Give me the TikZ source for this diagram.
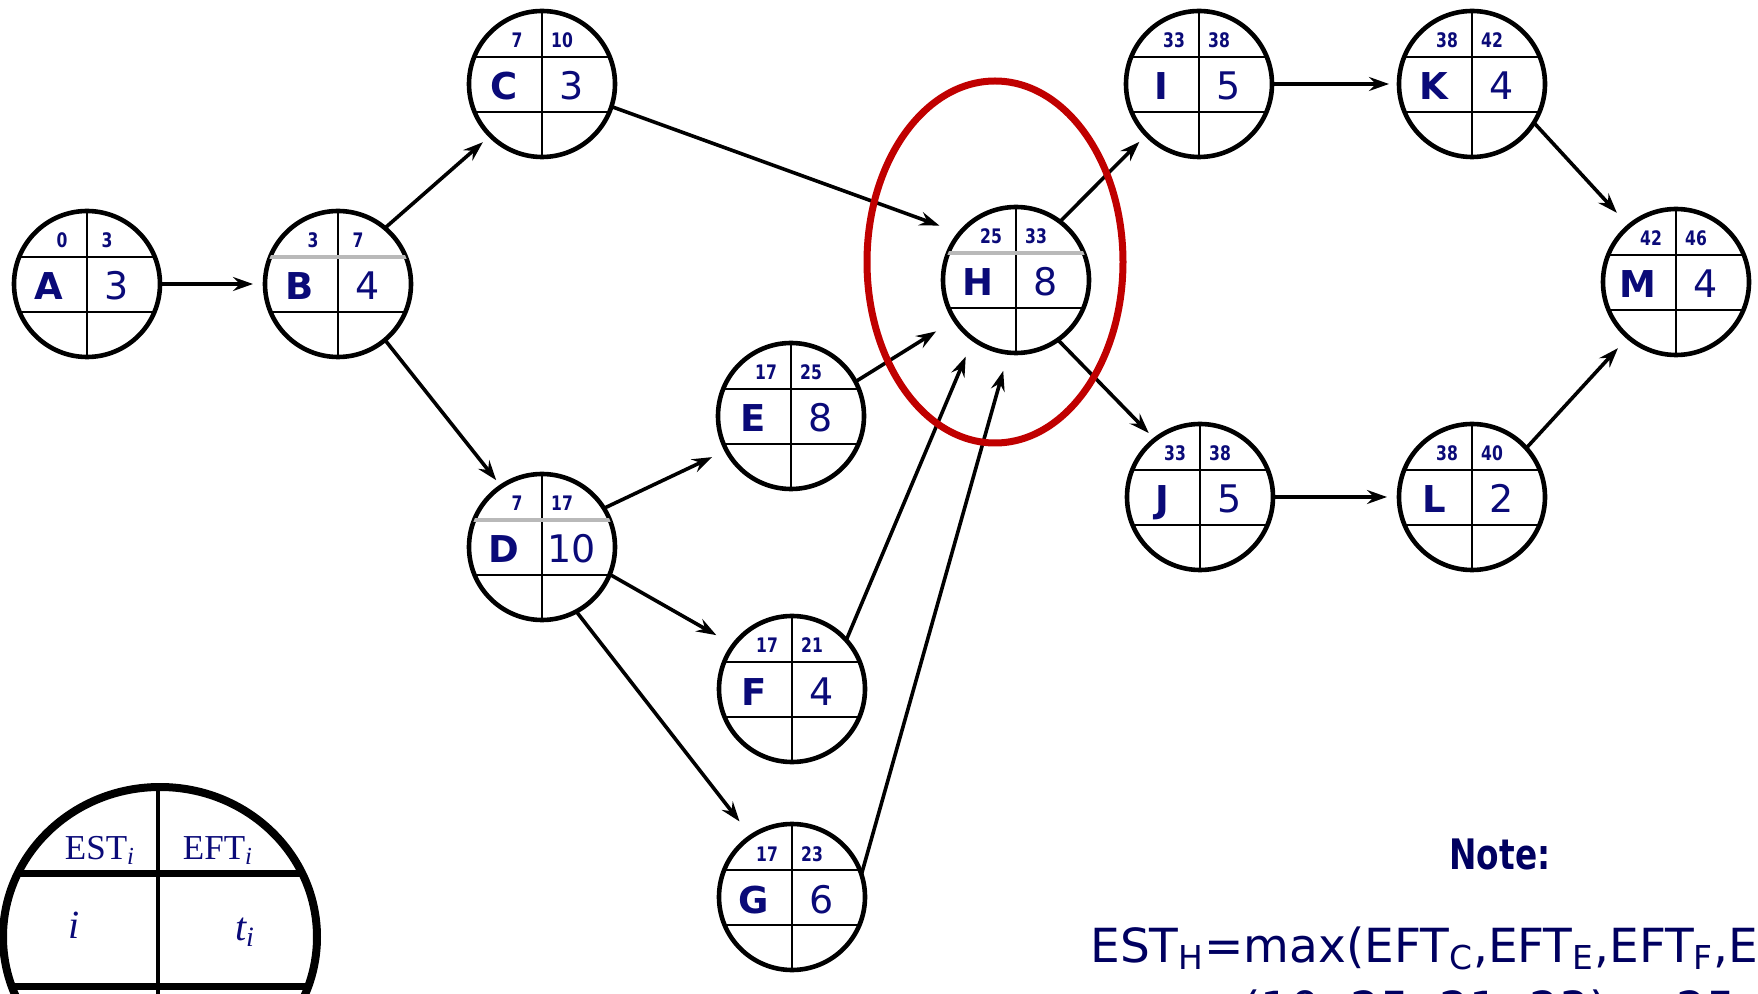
\documentclass[tikz,border=0pt]{standalone}
\usepackage{fontspec}
\setmainfont{DejaVu Sans}
\newfontfamily\narrowsans[FakeStretch=0.78]{DejaVu Sans}
\newfontfamily\legendfont{Liberation Serif}
\usetikzlibrary{calc,arrows.meta}

\definecolor{inknavy}{RGB}{10,10,120}
\definecolor{notenavy}{RGB}{0,0,96}
\definecolor{ringred}{RGB}{192,0,0}

\tikzset{
  actcircle/.style={circle,draw,line width=2.3pt,minimum size=73pt,inner sep=0pt,outer sep=0pt},
  cellline/.style={line width=1pt},
  grayrule/.style={line width=1.6pt,draw=gray!55},
  letter/.style={anchor=base,inner sep=0pt,text=inknavy,font=\fontsize{18.5}{20}\selectfont\bfseries},
  dur/.style={anchor=base,inner sep=0pt,text=inknavy,font=\fontsize{19}{20}\selectfont},
  times/.style={anchor=base,inner sep=0pt,text=inknavy,font=\narrowsans\bfseries\fontsize{10}{11}\selectfont},
  legendtext/.style={anchor=base,inner sep=0pt,text=inknavy,font=\legendfont\fontsize{17.5}{19}\selectfont},
  notebody/.style={anchor=base west,inner sep=0pt,text=notenavy,font=\fontsize{23.5}{26}\selectfont},
  prec/.style={line width=1.8pt,-{Stealth[length=10pt,width=7pt,inset=3.5pt]},shorten >=#1},
  prec/.default=6pt
}

% activity circle: [upper rule] name, position, letter, duration, EST, EFT
\newcommand\actnode[7][cellline]{%
  \node[actcircle] (#2) at (#3) {};
  \begin{scope}
    \clip (#2.center) circle (73);
    \draw[cellline] (#2.north) -- (#2.south);
    \draw[#1] ($(#2.center)+(-80,-27)$) -- ++(160,0);
    \draw[cellline] ($(#2.center)+(-80,28)$) -- ++(160,0);
  \end{scope}
  \node[times] (#2est) at ($(#2.center)+(-25,-36)$) {#6};
  \node[times] (#2eft) at ($(#2.center)+(20,-36)$) {#7};
  \node[letter] (#2id) at ($(#2.center)+(-38,16)$) {#4};
  \node[dur] (#2dur) at ($(#2.center)+(30,16)$) {#5};
}

\begin{document}
\begin{tikzpicture}[x=0.5pt,y=-0.5pt]
\clip (0,0) rectangle (1758,994);

% activities
\actnode{A}{87,284}{A}{3}{0}{3}
\actnode[grayrule]{B}{338,284}{B}{4}{3}{7}
\actnode{C}{542,84}{C}{3}{7}{10}
\actnode[grayrule]{D}{542,547}{D}{10}{7}{17}
\actnode{E}{791,416}{E}{8}{17}{25}
\actnode{F}{792,689}{F}{4}{17}{21}
\actnode{G}{792,897}{G}{6}{17}{23}
\actnode[grayrule]{H}{1016,280}{H}{8}{25}{33}
\actnode{I}{1199,84}{I}{5}{33}{38}
\actnode{J}{1200,497}{J}{5}{33}{38}
\actnode{K}{1472,84}{K}{4}{38}{42}
\actnode{L}{1472,497}{L}{2}{38}{40}
\actnode{M}{1676,282}{M}{4}{42}{46}

% precedences
\draw[prec] (A.east) -- (B.west);
\draw[prec=5pt] (B.50) -- (C.225);
\draw[prec=4pt] (B.-50) -- (D.124);
\draw[prec=11pt] (C.-18) -- (H.140);
\draw[prec=8pt] (D.32) -- (E.208);
\draw[prec=10pt] (D.-22) -- (F.143);
\draw[prec=9.5pt] (D.-62) -- (G.124);
\draw[prec=11pt] (E.28) -- (H.213);
\draw[prec=9.5pt] (F.42) -- (H.234);
\draw[prec=9.5pt] (G.18) -- (H.264);
\draw[prec=5pt] (H.53) -- (I.224);
\draw[prec=4.5pt] (H.-55) -- (J.128);
\draw[prec=5pt] (I.east) -- (K.west);
\draw[prec] (J.east) -- (L.west);
\draw[prec=9pt] (K.-32) -- (M.130);
\draw[prec=7.5pt] (L.42) -- (M.229);

% highlight round H
\draw[ringred,line width=3.5pt] (995,262) ellipse [x radius=128,y radius=181];

% legend
\begin{scope}
  \clip (160,937) ellipse [x radius=157,y radius=150];
  \draw[line width=2pt] (158,770) -- (158,1100);
  \draw[line width=3.5pt] (0,873) -- (330,873);
  \draw[line width=3.5pt] (0,986) -- (330,986);
\end{scope}
\draw[line width=4pt] (160,937) ellipse [x radius=157,y radius=150];
\node[legendtext] (legest) at (100,859) {EST\textsubscript{\itshape i}};
\node[legendtext] (legeft) at (218,859) {EFT\textsubscript{\itshape i}};
\node[legendtext,font=\legendfont\itshape\fontsize{20}{22}\selectfont] (legid) at (74,938) {i};
\node[legendtext,font=\legendfont\itshape\fontsize{20}{22}\selectfont] (legdur) at (245,940) {t\textsubscript{i}};

% note
\node[anchor=base,inner sep=0pt,text=notenavy,font=\narrowsans\bfseries\fontsize{21}{24}\selectfont] (notetitle) at (1500,869) {Note:};
\node[notebody] (estline) at (1090,962) {EST\textsubscript{H}=max(EFT\textsubscript{C},EFT\textsubscript{E},EFT\textsubscript{F},EFT\textsubscript{G})};
\node[notebody] (estvalue) at (1100,1025) {=max(10, 25, 21, 23) = 25};
\end{tikzpicture}
\end{document}
